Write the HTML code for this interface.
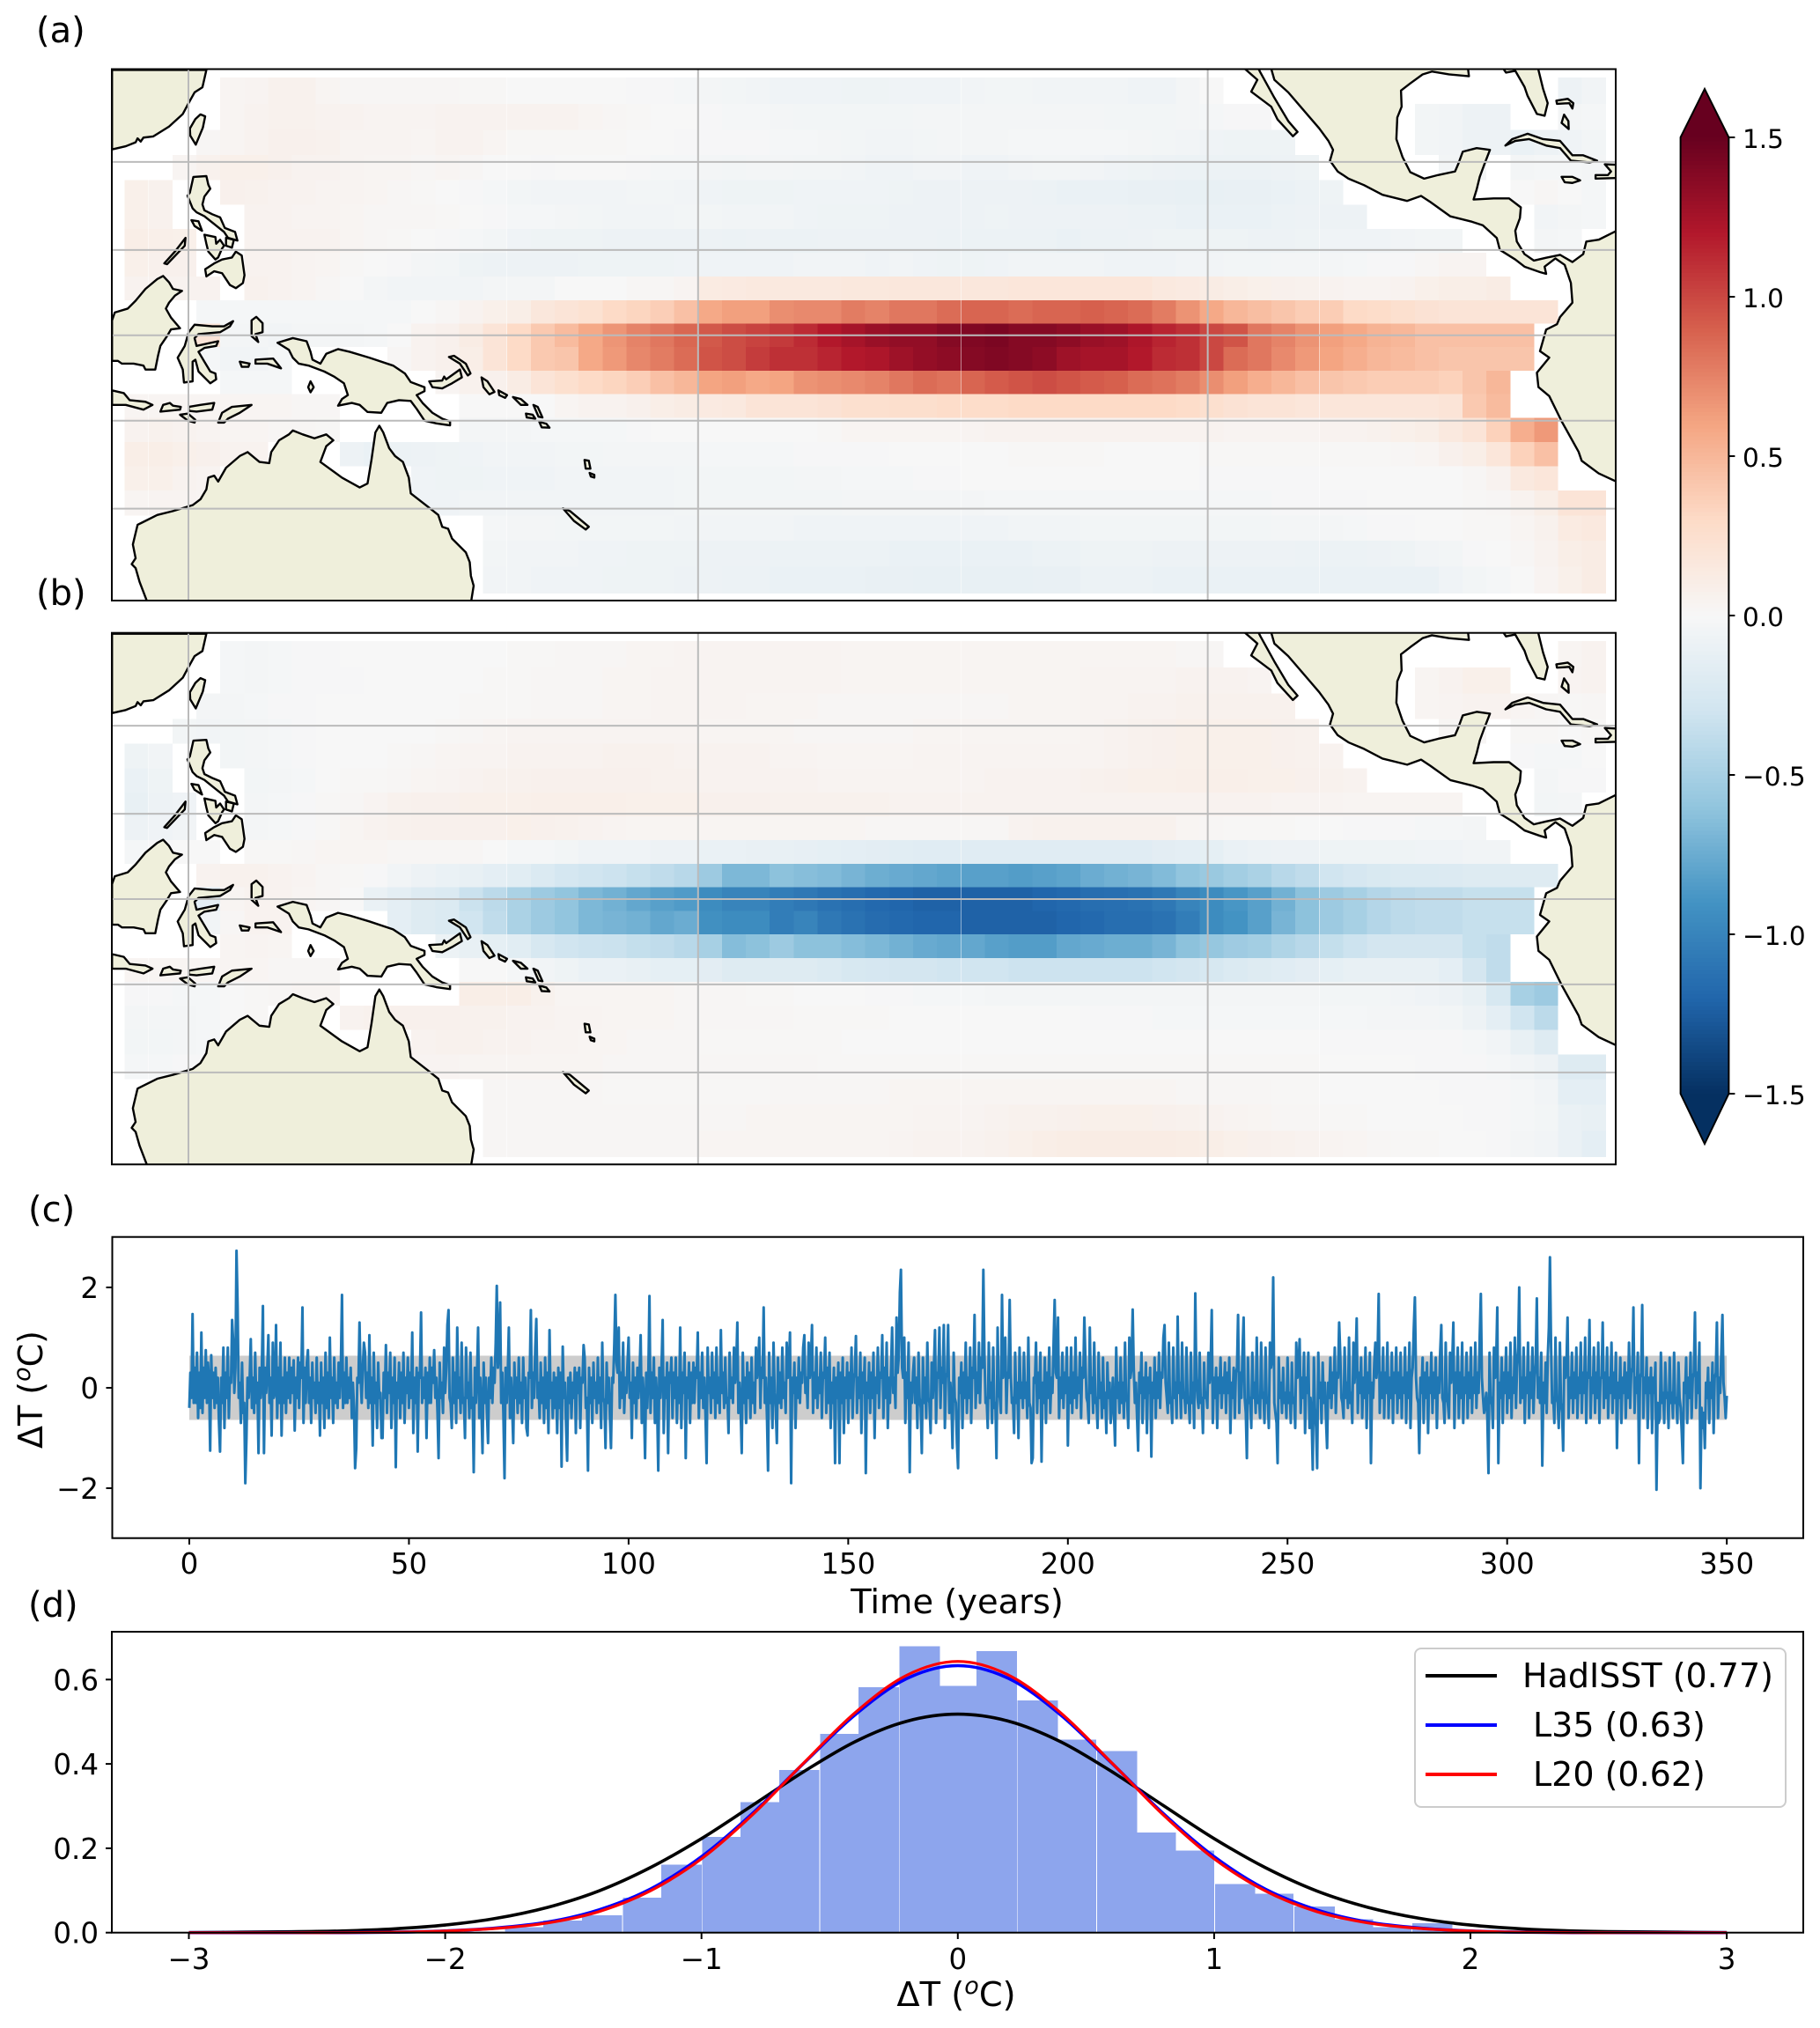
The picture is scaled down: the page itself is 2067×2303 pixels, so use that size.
<!DOCTYPE html>
<html lang="en">
<head>
<meta charset="utf-8">
<title>ENSO SST anomaly patterns and time series</title>
<style>
html,body{margin:0;padding:0;background:#fff;}
svg{display:block;}
text{font-family:"DejaVu Sans","Liberation Sans",sans-serif;fill:#000;}
</style>
</head>
<body>
<svg id="fig" xmlns="http://www.w3.org/2000/svg" width="2067" height="2303" viewBox="0 0 2067 2303">
<rect x="0" y="0" width="2067" height="2303" fill="#fff"/>
<defs>
<clipPath id="clip-a"><rect x="127" y="78.5" width="1708" height="603.5"/></clipPath>
<clipPath id="clip-b"><rect x="127" y="718.7" width="1708" height="603.6"/></clipPath>
</defs>
<g id="map-a" clip-path="url(#clip-a)"></g>
<g id="map-b" clip-path="url(#clip-b)"></g>
<rect x="127" y="78.5" width="1708" height="603.5" fill="none" stroke="#000" stroke-width="2"/>
<rect x="127" y="718.7" width="1708" height="603.6" fill="none" stroke="#000" stroke-width="2"/>
<text x="41" y="48" font-size="40">(a)</text>
<text x="41" y="687" font-size="40">(b)</text>
<text x="32" y="1387" font-size="40">(c)</text>
<text x="32" y="1836" font-size="40">(d)</text>
<g id="colorbar"></g>
<g id="series"></g>
<g id="pdf"></g>
<text transform="translate(48,1578) rotate(-90)" text-anchor="middle" font-size="38">ΔT (<tspan font-size="27" font-style="italic" dy="-14">o</tspan><tspan dy="14">C)</tspan></text>
<text x="1087" y="1832" text-anchor="middle" font-size="38.4">Time (years)</text>
<text x="1086" y="2278" text-anchor="middle" font-size="38.4">ΔT (<tspan font-size="27" font-style="italic" dy="-14">o</tspan><tspan dy="14">C)</tspan></text>
<g>
<rect x="1607" y="1872" width="421" height="180" rx="7" fill="#fff" fill-opacity="0.85" stroke="#ccc" stroke-width="2"/>
<line x1="1619" x2="1700" y1="1903" y2="1903" stroke="#000" stroke-width="4"/>
<text x="1729" y="1916" font-size="38">HadISST (0.77)</text>
<line x1="1619" x2="1700" y1="1959" y2="1959" stroke="#0000ff" stroke-width="4"/>
<text x="1741" y="1972" font-size="38">L35 (0.63)</text>
<line x1="1619" x2="1700" y1="2015" y2="2015" stroke="#ff0000" stroke-width="4"/>
<text x="1741" y="2028" font-size="38">L20 (0.62)</text>
</g>
</svg>
<script>
const _ = null;
/* ---------- panel (a): SST anomaly per grid cell, hundredths of a degree ---------- */
const anomalyA = [
[_,_,_,_,3,4,6,6,3,2, 2,2,2,2,1,1,0,0,0,0, 0,-1,-1,-2,-3,-4,-5,-6,-6,-6, -7,-7,-6,-6,-6,-5,-4,-4,-5,-5, -5,-5,-6,-6,-3,0,_,_,_,_, _,_,_,_,_,_,_,_,_,_, -8,-5],
[_,_,_,_,3,5,6,6,5,5, 4,4,4,5,5,5,5,5,5,3, 2,1,0,0,-1,-2,-2,-3,-4,-4, -4,-4,-4,-3,-3,-3,-3,-3,-3,-3, -3,-4,-4,-4,-3,-2,-1,-1,_,_, _,_,_,_,-4,-5,-8,-8,_,_, -3,-2],
[_,_,_,2,3,5,7,7,6,4, 4,4,3,5,5,3,1,1,1,1, 1,0,0,-1,-1,-1,-1,-2,-2,-3, -4,-5,-5,-4,-3,-3,-3,-2,-2,-2, -2,-2,-3,-4,-5,-6,-7,-7,-7,_, _,_,_,_,-4,-5,-8,-8,-10,-8, -6,-4],
[_,_,3,6,8,8,7,5,5,4, 3,3,2,3,2,0,0,-1,0,0, 0,-1,-2,-2,-3,-4,-3,-3,-4,-4, -5,-6,-6,-5,-5,-6,-6,-5,-4,-4, -5,-6,-7,-8,-9,-9,-9,-9,-8,-7, _,_,_,_,_,-4,-3,_,-3,-2, -2,-3],
[8,6,_,_,7,6,5,5,4,4, 3,2,1,0,-1,-2,-4,-5,-5,-5, -5,-4,-4,-5,-6,-7,-7,-7,-6,-6, -6,-6,-7,-8,-8,-8,-8,-8,-9,-10, -10,-10,-11,-11,-12,-12,-11,-11,-10,-9, -7,_,_,_,_,_,_,_,0,2, 0,-2],
[8,6,_,_,_,5,5,4,4,3, 2,2,2,1,0,-1,-2,-2,-3,-4, -5,-5,-5,-4,-4,-5,-5,-5,-6,-7, -7,-7,-8,-8,-8,-8,-7,-8,-8,-8, -8,-8,-9,-9,-10,-10,-10,-10,-9,-8, -8,-8,_,_,_,_,_,_,_,-5, -3,-2],
[10,9,8,_,_,5,5,5,5,3, 2,1,0,-1,-2,-4,-6,-7,-7,-7, -8,-8,-8,-8,-8,-9,-8,-9,-9,-8, -8,-8,-8,-8,-9,-9,-9,-9,-9,-10, -9,-9,-8,-7,-7,-7,-7,-8,-8,-7, -6,-6,-6,-5,-4,-4,_,_,_,-3, -2,_],
[8,7,7,_,_,5,5,4,3,1, 0,-1,-3,-4,-7,-8,-8,-8,-8,-7, -7,-7,-7,-6,-6,-6,-6,-6,-5,-5, -5,-6,-5,-6,-7,-7,-6,-5,-5,-5, -5,-6,-6,-6,-5,-5,-4,-4,-3,-3, -3,-2,-1,-1,2,4,4,_,_,_, _,_],
[5,5,5,5,_,6,5,4,2,0, -3,-5,-5,-5,-5,-3,-3,-3,0,0, 0,2,2,4,13,14,15,15,15,15, 16,16,17,17,17,17,17,18,18,18, 18,18,18,15,14,12,10,8,7,6, 5,4,4,5,8,10,10,12,_,_, _,_],
[_,_,_,-2,-2,-2,-2,-2,-2,-2, -2,-2,0,2,5,8,10,17,20,23, 30,33,37,45,58,62,62,70,72,72, 78,75,80,80,85,88,88,85,88,88, 90,88,85,78,68,58,50,46,42,38, 38,30,28,25,22,20,20,20,20,20, _,_],
[_,_,_,20,-3,-3,-5,-3,-3,-3, -2,0,5,7,12,20,30,40,48,58, 67,75,80,87,93,98,102,106,112,120, 125,130,133,133,138,140,142,138,138,135, 130,128,122,115,110,100,95,80,75,68, 62,58,52,50,45,45,45,45,45,_, _,_],
[_,_,_,-2,-5,-5,-2,_,_,_, _,2,5,7,10,20,30,40,42,58, 65,73,78,85,95,98,105,110,110,115, 120,122,128,132,135,138,140,138,135,128, 125,125,120,112,110,100,85,80,72,65, 60,55,50,48,45,42,42,42,42,_, _,_],
[_,_,_,_,-2,-2,-2,_,_,_, _,_,_,3,6,7,12,20,25,30, 33,37,45,50,60,62,58,60,68,70, 72,75,80,85,82,88,92,95,98,95, 92,90,85,82,78,70,62,55,50,45, 42,40,38,38,38,35,42,50,_,_, _,_],
[3,3,3,3,3,3,3,2,2,_, _,_,_,_,0,0,0,0,3,5, 5,7,10,12,14,15,20,20,20,22, 25,25,26,26,28,28,28,30,30,30, 30,30,30,30,28,25,22,20,20,18, 18,18,18,18,18,20,40,48,_,_, _,_],
[5,6,5,4,3,3,2,2,1,_, _,_,_,_,-3,-3,-3,-2,-2,-2, -2,-1,0,0,0,0,0,0,0,1, 3,3,3,3,3,4,5,5,5,5, 5,5,5,5,5,5,4,4,4,4, 5,5,6,8,10,15,20,35,55,65, _,_],
[10,10,8,7,5,5,_,_,_,-8, -10,-9,-8,-7,-6,-5,-5,-5,-4,-4, -3,-3,-3,-3,-2,-2,-2,-2,-1,-1, -1,-1,0,0,0,0,0,1,1,1, 1,0,0,0,0,1,1,1,1,1, 1,1,1,2,3,7,10,18,35,45, _,_],
[8,8,5,4,_,_,_,_,_,_, _,_,-6,-7,-7,-6,-6,-6,-5,-5, -5,-5,-5,-4,-4,-4,-4,-4,-3,-3, -2,-2,-2,-1,-1,0,0,0,0,0, 0,0,0,0,0,-1,-1,-1,-1,-1, 0,0,0,0,0,0,2,5,15,18, _,_],
[3,4,4,3,_,_,_,_,_,_, _,_,-6,-6,-5,-5,-5,-5,-5,-5, -5,-5,-5,-4,-4,-4,-4,-4,-4,-4, -3,-3,-3,-3,-3,-3,-2,-2,-2,-2, -2,-2,-2,-2,-2,-2,-2,-2,-1,-1, -1,-1,0,0,0,0,1,2,5,10, 20,20],
[_,_,_,_,_,_,_,_,_,_, _,_,_,_,_,-2,-3,-3,-4,-4, -4,-4,-4,-5,-5,-5,-5,-5,-6,-6, -6,-6,-6,-6,-6,-6,-6,-5,-5,-5, -4,-4,-4,-4,-4,-4,-4,-4,-3,-3, -3,-2,-1,-1,0,0,1,1,3,6, 13,15],
[_,_,_,_,_,_,_,_,_,_, _,_,_,_,_,-4,-5,-5,-5,-6, -6,-7,-7,-7,-8,-8,-8,-9,-9,-9, -9,-9,-10,-10,-10,-10,-10,-10,-9,-9, -7,-7,-7,-8,-8,-8,-8,-8,-8,-9, -9,-9,-8,-7,-5,-4,-1,0,2,5, 10,12],
[_,_,_,_,_,_,_,_,_,_, _,_,_,_,_,-5,-5,-6,-6,-6, -7,-7,-7,-8,-8,-9,-9,-10,-10,-10, -10,-11,-11,-12,-12,-12,-12,-12,-11,-11, -9,-9,-9,-10,-10,-10,-10,-10,-10,-10, -10,-10,-10,-10,-10,-6,-4,-2,0,4, 8,12]
];
/* ---------- panel (b): SST anomaly per grid cell, hundredths of a degree ---------- */
const anomalyB = [
[_,_,_,_,-2,-3,-2,-1,-1,0, 0,0,0,0,0,0,1,1,2,2, 2,3,3,4,4,4,4,4,4,4, 3,3,3,3,3,3,3,3,3,3, 3,3,3,3,2,2,_,_,_,_, _,_,_,_,_,_,_,_,_,_, 3,5],
[_,_,_,_,-2,-3,-2,-1,-1,-1, 0,0,0,0,0,1,1,2,2,2, 3,3,4,4,4,4,4,4,4,4, 3,3,3,3,3,3,3,3,3,3, 4,4,4,4,5,5,5,4,_,_, _,_,_,_,3,5,8,8,_,_, 4,5],
[_,_,_,-3,-3,-2,-1,-1,0,0, 0,0,0,0,1,1,1,2,2,2, 3,3,4,4,4,4,3,3,3,2, 2,2,2,2,2,2,2,3,3,3, 4,4,5,5,6,6,6,6,6,_, _,_,_,_,3,4,5,5,3,2, 1,2],
[_,_,-4,-5,-4,-3,-2,-1,0,0, 0,0,0,1,2,3,4,4,4,4, 4,4,4,4,3,3,3,3,2,2, 2,2,2,3,3,3,3,3,3,3, 4,5,6,7,8,8,8,8,7,6, _,_,_,_,_,2,2,_,1,1, 0,1],
[-7,-5,_,_,-4,-3,-2,-1,0,0, 0,1,2,3,4,4,5,5,5,5, 6,6,6,5,5,5,5,4,4,3, 3,3,3,4,4,4,4,4,4,4, 4,5,6,7,8,8,8,8,7,6, 5,_,_,_,_,_,_,_,-1,-2, -2,0],
[-10,-7,_,_,_,-4,-3,-2,0,1, 1,2,3,4,5,6,6,7,7,7, 7,7,6,6,5,5,5,5,5,4, 4,4,4,4,4,4,5,5,5,5, 6,7,8,8,9,9,9,8,8,7, 6,5,_,_,_,_,_,_,_,-3, -1,-1],
[-12,-8,-6,_,_,-3,-2,-1,1,2, 4,6,7,7,8,8,8,9,9,9, 9,8,8,8,7,7,7,6,6,6, 6,6,5,5,5,5,5,5,5,5, 5,5,5,5,5,5,5,5,4,4, 4,3,3,3,3,3,_,_,_,-4, -3,_],
[-8,-6,-5,_,_,-3,-2,-1,1,3, 5,6,7,7,7,7,8,7,6,5, 4,3,3,3,3,3,3,3,3,3, 3,2,2,2,2,2,2,5,6,6, 6,6,6,6,3,2,1,1,1,0, 0,-1,-1,-1,-2,-2,-3,_,_,_, _,_],
[-2,-1,0,0,_,1,1,2,3,3, 3,2,2,2,2,0,-2,-2,-4,-6, -6,-6,-8,-8,-10,-10,-11,-12,-13,-14, -15,-16,-17,-18,-18,-18,-18,-18,-18,-18, -18,-18,-18,-16,-15,-14,-10,-9,-8,-8, -7,-7,-7,-7,-6,-6,-5,-5,_,_, _,_],
[_,_,_,5,6,6,5,4,2,1, -1,-5,-8,-10,-12,-15,-17,-22,-27,-30, -32,-35,-38,-42,-55,-68,-68,-62,-64,-66, -70,-74,-76,-78,-80,-82,-82,-84,-82,-80, -75,-72,-70,-66,-60,-56,-52,-48,-42,-38, -30,-26,-24,-22,-22,-21,-20,-20,-20,-20, _,_],
[_,_,_,-15,3,5,5,3,2,0, -10,-15,-20,-22,-33,-40,-48,-55,-60,-68, -72,-78,-82,-85,-95,-100,-100,-105,-108,-112, -115,-118,-120,-122,-122,-122,-122,-122,-120,-118, -115,-114,-112,-108,-100,-95,-88,-82,-72,-62, -55,-50,-44,-40,-38,-38,-35,-35,-35,_, _,_],
[_,_,_,-5,2,5,5,_,_,_, _,-15,-20,-22,-30,-38,-48,-55,-60,-68, -70,-72,-78,-75,-92,-95,-95,-105,-100,-108, -112,-116,-118,-120,-120,-122,-122,-122,-122,-120, -118,-115,-115,-112,-105,-95,-90,-82,-70,-62, -55,-50,-44,-40,-38,-38,-35,-35,-35,_, _,_],
[_,_,_,_,3,4,3,_,_,_, _,_,_,-9,-12,-14,-17,-25,-30,-32, -33,-36,-38,-42,-50,-65,-62,-55,-62,-62, -65,-68,-72,-76,-78,-78,-82,-84,-84,-78, -76,-74,-74,-70,-62,-58,-54,-52,-46,-42, -36,-32,-28,-28,-28,-28,-35,-38,_,_, _,_],
[3,3,3,3,3,3,2,2,2,_, _,_,_,_,0,0,-2,-5,-7,-10, -10,-12,-14,-14,-16,-20,-20,-20,-20,-22, -25,-26,-28,-28,-30,-30,-30,-32,-32,-32, -32,-32,-32,-30,-28,-25,-22,-20,-18,-16, -14,-12,-12,-12,-12,-15,-28,-38,_,_, _,_],
[-1,-1,-2,-2,0,1,2,3,3,_, _,_,_,_,10,10,10,6,3,3, 3,3,3,2,2,2,1,1,0,0, 0,-1,-1,-2,-2,-2,-3,-3,-3,-3, -3,-3,-3,-3,-3,-3,-3,-3,-3,-3, -4,-4,-4,-5,-6,-8,-12,-25,-50,-55, _,_],
[-3,-3,-3,-2,0,1,_,_,_,5, 6,7,7,7,6,6,5,5,4,4, 3,3,3,2,2,2,2,2,1,1, 1,1,0,0,0,0,0,0,0,0, -1,-1,-1,-2,-2,-2,-2,-2,-2,-2, -2,-2,-3,-3,-3,-4,-8,-15,-30,-40, _,_],
[-4,-4,-3,-2,_,_,_,_,_,_, _,_,5,6,6,5,5,4,4,3, 3,2,2,2,1,1,1,1,1,1, 0,0,0,0,0,0,0,0,0,0, 0,0,0,0,0,0,0,0,0,0, -1,-1,-1,-1,-1,-1,-2,-5,-12,-20, _,_],
[-2,-2,-1,-1,_,_,_,_,_,_, _,_,4,4,3,3,3,3,3,3, 2,2,2,2,2,2,2,2,2,1, 1,1,1,1,1,1,1,1,1,1, 1,1,1,1,1,1,1,1,1,1, 0,0,0,0,-1,-1,-1,-2,-5,-8, -20,-20],
[_,_,_,_,_,_,_,_,_,_, _,_,_,_,_,2,2,2,2,2, 1,1,1,1,1,1,1,2,2,2, 2,2,3,3,3,3,3,3,3,3, 3,3,3,3,2,2,2,2,1,1, 0,0,0,0,0,-1,-1,-1,-2,-5, -15,-15],
[_,_,_,_,_,_,_,_,_,_, _,_,_,_,_,2,2,2,2,2, 2,2,2,2,2,2,3,3,3,3, 3,3,3,4,4,4,5,6,6,7, 8,8,8,7,6,5,4,3,2,2, 1,1,0,0,0,0,-1,-1,-2,-4, -10,-12],
[_,_,_,_,_,_,_,_,_,_, _,_,_,_,_,2,2,2,2,2, 2,2,2,2,3,3,3,3,3,3, 3,3,4,5,5,5,6,8,10,11, 12,12,12,12,11,10,8,7,6,5, 4,3,2,1,1,0,0,-1,-3,-5, -10,-15]
];
const gridLons = [120, 180, 240];
const gridLats = [20, 10, 0, -10, -20];
const cbarTicks = [1.5, 1.0, 0.5, 0.0, -0.5, -1.0, -1.5];

const timeStepYears = 0.25;
const timeTicks = [0, 50, 100, 150, 200, 250, 300, 350];
const tempTicks = [-2, 0, 2];
const bandHalfWidth = 0.64;
const bandYears = [0, 350];
const anomalySeries = [
-.4,.3,-.2,1.47,-.3,.4,-.3,.7,-.6,.3,-.4,1.1,-.5,.4,-.2,.75,-.3,.5,.1,-1.25,.65,-.2,.3,-.4,.4,-.3,.2,-.7,-1.27,.2,-.3,.8,-.8,.3,-.2,.8,-.6,.2,.1,1.35,
.9,-.1,.4,2.73,1.6,-.2,.1,-.7,.5,-.5,-.3,-1.9,-1.0,.2,-.2,.2,.97,-.4,.2,-.5,.7,-.3,.1,-1.3,.4,-.2,.3,1.63,-1.3,.4,-.1,.4,1.05,-.3,.2,-.95,.9,-.2,-.1,1.25,
-.6,.4,-.3,.9,-.95,.2,-.3,.6,-.5,.3,-.2,.6,-.3,.4,-.1,.55,-.85,.2,-.2,.6,-.4,.5,.2,1.6,-.7,.4,-.3,.5,.75,-.3,.2,-.7,.5,-.2,.1,-.5,.6,-.3,.1,-.95,
.5,-.3,.2,-.8,.7,-.4,.3,-.6,1.0,-.2,.2,-.7,.6,-.3,.1,-.4,.5,-.2,.4,1.85,-.4,.3,-.3,.6,-.3,.2,-.2,.4,-.6,.1,-.4,-1.6,-1.2,.2,.1,1.3,.2,-.3,.4,.9,
.7,-.2,.3,-.4,1.05,-.3,.2,-1.15,.7,-.3,.1,-.8,.5,-.2,-.1,-1.0,-1.0,.3,-.2,.85,-.5,.3,-.1,.7,-.8,.2,-.3,.6,-1.58,.1,-.2,.5,-.6,.3,-.3,.7,-.7,.2,-.1,.6,
-.4,.3,-.2,1.1,-.9,.2,-.3,.4,-1.27,.3,.2,1.5,-.3,.2,-.2,.4,-1.0,.3,-.3,.6,-.3,.4,.1,.75,-.2,.2,-.5,-1.4,.5,-.2,.1,-.5,.8,-.1,.4,1.25,1.55,-.2,-.3,-.8,
.6,-.3,.3,-.7,1.2,-.2,.2,-.5,.9,-.3,-.2,-1.0,.8,-.2,.1,-.6,.7,-.4,-.2,-1.68,.4,-.3,.3,1.2,-.6,.2,-.4,-1.3,.5,-.3,.2,-.5,-1.1,.2,-.2,.6,-.3,.4,.1,.9,
2.03,.4,.8,1.7,-.3,.3,-.5,-1.8,.4,-.3,.3,1.2,-.6,.2,-.4,-1.1,.5,-.2,.2,-.5,.6,-.3,.1,-.7,.6,-.2,.2,-.8,-.95,.3,.2,1.55,-.4,.3,-.2,.8,1.37,-.2,.1,-.6,
.5,-.3,.2,-.7,.6,-.4,.3,-.9,1.15,-.2,.1,-.6,.3,-.4,.2,-.9,.4,-.4,.3,-1.57,.82,-.2,.1,-.7,-1.45,.2,-.3,.3,-.6,.1,-.2,.4,-.9,.3,-.1,.4,-.8,.2,.1,.85,
.6,-.4,-.2,-1.65,.4,-.3,.2,-.7,.5,-.2,.1,-.5,.6,-.3,.2,-.8,.9,-.2,-.3,-1.2,.5,-.3,.2,-.6,-1.2,.2,.1,.9,1.85,.5,.3,1.2,-.4,.3,-.2,.9,-.5,.2,-.1,.5,
1.0,-.2,.1,-1.0,.5,-.3,.2,-.6,.4,-.2,.3,1.05,-.7,.2,-.3,-1.4,.3,-.4,.3,1.83,-.5,.3,-.2,.6,-.7,.2,-.3,-1.65,.4,-.2,.4,1.35,-.9,.2,-.2,.5,-1.3,.3,.1,.6,
-.6,.3,-.2,.6,-.7,.2,-.3,1.2,-.8,.3,-.1,.7,-1.4,.2,-.2,.5,-.7,.3,-.3,.5,-.3,.4,.2,1.1,-.6,.3,-.2,.7,-.4,.2,-.5,-1.5,.8,-.1,.2,-.5,.7,-.2,.3,-.6,
.8,-.3,.2,-.5,1.15,-.1,.3,-.4,.6,-.3,-.2,-.9,.7,-.2,.2,-.3,.8,.1,.4,1.3,-.5,.1,-.4,-1.3,.7,-.3,.2,-.7,.5,-.2,.3,-.6,.6,-.3,.1,-.5,.8,.2,.5,1.0,
-.4,.4,.2,1.6,-.3,.2,-.6,-1.65,.7,-.3,.2,-.8,.9,-.1,-.4,-1.1,.6,-.3,.3,-.4,.8,-.2,.1,-.5,.9,.2,.4,1.1,-1.9,.2,-.1,.5,-.8,.2,-.2,.6,-.3,.3,.1,.8,
1.05,-.1,.2,-.4,.9,.2,.5,1.25,-.5,.3,-.2,.8,-.4,.2,-.1,.7,-.6,.3,.2,1.0,-.5,.4,-.3,.7,-.8,.1,-.3,.4,-1.5,.2,-.2,.5,-1.5,.3,-.3,.6,-.9,.2,-.2,.5,
-.7,.3,-.2,.8,-.6,.2,.3,1.03,-.5,.2,-.2,.7,-.9,.3,-.1,.6,-1.7,.1,-.2,.5,-.5,.3,-.2,.7,-1.0,.2,-.1,.8,-.4,.3,.2,1.05,-.6,.4,-.2,.9,-.8,.2,-.3,.4,
1.2,-.1,.2,-.4,1.4,.3,.6,1.9,2.35,.4,.2,1.0,-.7,.3,-.2,.9,-1.68,.1,-.3,.3,
.6,-.3,.2,-.8,.7,-.2,-.4,-1.3,.6,-.3,.2,-.6,.9,-.2,-.3,-.9,.5,-.2,.4,1.15,
-.7,.3,.2,1.2,-.4,.4,.1,1.25,-.8,.2,.3,1.25,-.5,.1,-.3,-1.2,.7,-.2,-.3,-1.1,
-1.6,.2,-.1,.5,-.8,.3,-.2,.9,-.5,.2,-.2,.8,-.7,.4,.2,1.45,-.4,.3,-.1,.9,
-.3,.6,.4,2.35,.7,-.3,-.2,-.8,.9,-.2,.1,-.7,.8,-.4,-.3,-1.4,1.2,-.1,-.2,-.5,
1.85,.2,.4,1.0,-.5,.3,.2,1.75,.3,-.3,-.2,-.9,.7,-.3,.1,-1.0,.8,-.2,.1,-.4,
.7,-.2,.1,-.6,1.0,-.3,-.4,-1.5,-1.4,.2,.1,.9,-.5,.3,-.2,.7,-1.47,.1,-.3,.6,
-.7,.3,-.2,.8,-.5,.2,-.1,.9,1.75,.3,.2,1.4,-.6,.2,-.2,.7,-.4,.3,-.1,.8,
-1.15,.2,-.3,.8,-.5,.3,-.2,1.0,-.4,.2,-.1,.7,-.6,.4,.2,1.4,.5,-.2,-.3,-.7,
1.2,-.1,.2,-.5,.9,-.3,-.2,-.8,.7,-.2,.1,-.6,.6,-.4,-.1,-.9,.5,-.2,.1,-.7,
-.4,.2,-.5,-1.15,.8,-.2,.1,-.5,.6,-.3,.1,-.6,.9,-.2,-.3,-.8,1.0,.2,.4,1.56,
.4,-.3,.1,-.6,-1.25,.3,-.1,.7,-.7,.2,-.2,.5,-.9,.2,-.1,.4,-1.37,.1,-.2,.6,
-.6,.3,-.2,.7,-.4,.3,.2,1.0,1.25,.1,-.2,-.5,.9,-.3,-.2,-.7,.8,-.2,.1,-.6,
1.42,-.1,.1,-.6,.9,-.2,-.1,-.5,.8,-.3,-.2,-.7,.7,-.3,.1,-.8,1.88,.2,-.2,-.4,
.7,-.3,-.2,-.9,.5,-.2,-.1,-.4,.7,.1,.4,1.55,-.7,.2,-.2,.4,-.8,.2,-.1,.6,
-.4,.2,-.1,.5,-.5,.3,-.1,.6,-.9,.1,-.2,.4,-.6,.3,.4,1.45,-.5,.3,-.2,.7,
1.4,-.2,-.5,-1.4,.6,-.3,-.2,-.8,.7,-.2,.1,-.5,1.0,-.3,-.2,-.6,.9,-.2,-.1,-.7,
.8,-.3,-.2,-.8,.9,.4,.6,2.2,-.3,-.5,-.7,-1.5,.6,-.2,.1,-.5,.4,-.3,-.1,-.6,
.6,-.3,-.1,-.7,.5,-.3,-.2,-.8,.9,.2,.4,.97,-.5,.2,-.2,.7,-.9,.2,-.1,.7,
-.8,-.2,-.6,-1.63,.6,-.4,-.8,-1.6,.7,-.2,.1,-.7,.5,-.3,.1,-.6,-1.2,.1,-.2,.6,
-.4,.3,-.1,.8,-.5,.3,.2,1.3,.7,-.2,-.3,-.6,.8,-.2,.1,-.4,1.0,-.3,-.1,-.7,
.9,.1,.5,1.38,-.5,.3,-.1,.6,-.6,.2,-.2,.8,-.8,.3,-.1,.7,-1.5,.1,-.2,.5,
.9,.2,.6,1.87,-.5,.3,-.2,.8,-.6,.3,-.1,.9,-.6,.2,-.2,.7,-.7,.3,-.1,.8,
-.5,.3,-.2,.7,-.6,.2,-.1,.8,-.7,.3,-.2,.9,-.8,.2,.4,1.2,1.8,.2,-.2,-.3,
-1.3,.2,-.1,.6,-.7,.3,-.2,.5,-.9,.2,-.1,.7,-.5,.3,-.2,.6,-.8,.2,-.1,.7,
1.25,-.2,-.3,-.7,.9,-.2,-.3,-.6,.7,.1,.5,1.3,-.8,.3,-.1,.8,-.6,.3,-.2,.9,
-.7,.2,-.1,.7,-.6,.3,-.2,.8,-.5,.2,-.1,.9,-.4,.3,-.1,1.0,1.87,.2,-.2,-.5,
-.3,-.1,-.6,-1.7,.7,-.3,-.2,-.8,.8,.2,.5,1.6,-1.5,.1,-.2,.6,-.7,.3,-.1,.8,
-.5,.3,-.2,.9,-.6,.2,-.1,1.0,-.4,.4,.8,2.0,-.3,.2,-.2,.8,-.7,.2,-.1,.9,
-.6,.3,-.2,.8,-.5,.2,.5,1.78,-.2,.2,-.3,.7,-1.55,.1,-.3,.5,-.5,.6,1.2,2.6,
.8,-.3,-.2,-.7,1.0,-.2,-.3,-.8,.9,-.3,-.5,-1.25,.6,.2,.5,1.4,-.6,.2,-.2,.7,
-.5,.3,-.2,.8,-.6,.2,-.1,.9,-.5,.3,-.1,1.0,-.7,.3,.2,1.35,-.6,.2,-.1,.8,
-.5,.3,-.2,.9,-.7,.2,.2,1.3,-.4,.3,-.2,.8,-.6,.2,-.1,.9,-.5,.3,-.2,.7,
-1.2,.1,-.2,.6,-.7,.2,-.1,.5,-.6,.3,-.2,.9,-.4,.3,.4,1.6,-.5,.2,-.1,.7,
-1.5,.2,.3,1.65,-.6,.2,-.1,.6,-.8,.2,-.1,.4,-.9,.2,-.1,.5,-2.03,-.3,-.7,-.6,
.7,-.3,-.1,-.7,.5,-.2,-.1,-.8,.6,-.3,-.1,-.6,.7,-.3,-.2,-.7,.5,-.2,-.4,-.9,
-1.5,.1,-.1,.6,-.7,.2,-.2,.7,-.6,.2,.3,1.5,-.4,.3,-.1,.9,-2.0,-.4,-.8,-.5,
-1.2,.1,-.2,.4,-.7,.1,-.2,.5,-.9,.2,.3,1.3,-.6,.2,-.1,.7,1.45,.1,-.2,-.6,
-.16
];

/* ---------- panel (d): histogram and fitted density curves ---------- */
const histCenters = [-1.85,-1.69,-1.54,-1.39,-1.23,-1.08,-.92,-.77,-.62,-.46,-.31,-.15,0,.15,.31,.46,.62,.77,.92,1.08,1.23,1.39,1.54,1.69,1.85,2.0];
const histDensity = [.003,.013,.029,.041,.083,.161,.227,.309,.386,.471,.582,.679,.585,.667,.550,.458,.431,.237,.195,.115,.092,.062,.032,.013,.022,.004];
const histBinWidth = 0.154;
const curveX = [-3,-2.8,-2.6,-2.4,-2.2,-2,-1.8,-1.6,-1.4,-1.2,-1,-.8,-.6,-.4,-.2,0,.2,.4,.6,.8,1,1.2,1.4,1.6,1.8,2,2.2,2.4,2.6,2.8,3];
const curveHadISST = [0,.001,.002,.004,.009,.018,.034,.06,.099,.154,.223,.302,.382,.453,.501,.518,.501,.453,.382,.302,.223,.154,.099,.06,.034,.018,.009,.004,.002,.001,0];
const curveL35 = [0,0,0,0,.001,.004,.011,.025,.054,.103,.18,.283,.402,.517,.602,.633,.602,.517,.402,.283,.18,.103,.054,.025,.011,.004,.001,0,0,0,0];
const curveL20 = [0,0,0,0,.001,.004,.01,.023,.05,.099,.175,.28,.403,.522,.61,.643,.61,.522,.403,.28,.175,.099,.05,.023,.01,.004,.001,0,0,0,0];
const pdfXTicks = [-3,-2,-1,0,1,2,3];
const pdfYTicks = [0,0.2,0.4,0.6];

/* ---------- coastlines (base-map geometry) ---------- */
const coastWest = [
"M285,380 L320,372 L345,362 L350,352 L358,360 L365,350 L390,347 L430,322 L465,290 L480,262 L495,235 L515,222 L525,178 L285,178 Z",
"M510,291 L522,296 L516,325 L498,368 L484,345 L483,327 L497,303 Z",
"M492,450 L525,448 L530,470 L535,480 L520,500 L515,520 L520,535 L540,545 L560,553 L572,580 L598,590 L604,612 L580,605 L570,590 L545,570 L520,550 L500,540 L490,530 L477,498 L483,490 Z",
"M487,560 L505,563 L514,587 L495,575 Z",
"M520,597 L548,603 L550,620 L560,610 L570,625 L565,632 L555,655 L548,660 L530,640 L525,620 Z",
"M575,605 L595,610 L590,630 L575,625 Z",
"M472,605 L470,625 L425,672 L418,670 L445,640 Z",
"M600,640 L615,650 L622,700 L618,720 L600,733 L585,725 L565,695 L545,690 L525,703 L522,685 L545,670 L565,660 L590,655 Z",
"M285,815 L292,795 L325,785 L345,765 L370,735 L400,710 L415,702 L430,718 L440,735 L463,740 L445,752 L430,770 L422,785 L435,808 L458,835 L435,838 L425,855 L408,880 L402,905 L395,940 L370,940 L365,930 L340,925 L310,925 L300,918 L285,918 Z",
"M480,845 L495,826 L540,830 L570,830 L593,817 L585,830 L560,845 L505,850 L495,860 L500,880 L555,868 L550,880 L520,885 L505,895 L520,920 L535,945 L548,950 L550,965 L535,975 L525,965 L505,945 L497,915 L490,920 L490,970 L468,973 L465,940 L452,910 L470,880 Z",
"M640,815 L652,806 L668,822 L668,845 L650,850 L657,870 L640,855 Z",
"M610,920 L635,925 L632,933 L615,933 Z",
"M650,915 L695,912 L715,937 L680,925 L650,925 Z",
"M285,993 L315,1000 L330,1018 L370,1022 L388,1030 L365,1042 L320,1030 L285,1030 Z",
"M408,1047 L415,1030 L432,1025 L440,1032 L460,1035 L458,1042 Z",
"M480,1035 L510,1030 L545,1025 L540,1042 L500,1047 L480,1045 Z",
"M458,1055 L478,1052 L497,1068 L495,1075 L478,1070 Z",
"M555,1075 L565,1050 L590,1035 L640,1030 L610,1050 L580,1065 L570,1075 Z",
"M706,872 L745,860 L780,868 L790,895 L795,915 L815,925 L830,900 L860,888 L890,895 L940,910 L1000,930 L1030,950 L1045,972 L1080,985 L1080,995 L1060,1005 L1075,1025 L1100,1050 L1125,1065 L1145,1072 L1145,1082 L1110,1077 L1080,1070 L1060,1040 L1045,1020 L1015,1018 L985,1025 L970,1050 L935,1048 L915,1030 L895,1025 L860,1032 L870,1015 L885,1005 L875,975 L850,958 L825,945 L785,930 L760,925 L745,910 L735,890 Z",
"M790,970 L798,985 L790,998 L784,985 Z",
"M1092,970 L1125,968 L1130,958 L1135,965 L1170,940 L1175,960 L1150,975 L1125,988 L1100,985 Z",
"M1142,908 L1155,905 L1185,925 L1197,950 L1190,955 L1170,925 Z",
"M1225,960 L1240,970 L1258,997 L1245,1003 L1230,985 Z",
"M1268,993 L1290,1005 L1285,1012 L1270,1005 Z",
"M1305,1010 L1325,1015 L1342,1030 L1325,1030 Z",
"M1357,1030 L1368,1035 L1380,1062 L1370,1060 Z",
"M1338,1052 L1355,1055 L1362,1065 L1340,1062 Z",
"M1372,1073 L1390,1078 L1398,1088 L1378,1087 Z",
"M1487,1170 L1498,1172 L1502,1192 L1490,1192 Z",
"M1500,1203 L1512,1208 L1512,1215 L1503,1212 Z",
"M1432,1293 L1450,1300 L1498,1340 L1490,1347 L1460,1325 Z",
"M373,1527 L355,1480 L345,1445 L335,1435 L345,1420 L338,1385 L350,1335 L360,1330 L400,1310 L440,1300 L490,1285 L510,1270 L525,1245 L530,1215 L545,1210 L555,1225 L575,1190 L610,1160 L630,1150 L660,1175 L685,1178 L690,1150 L710,1120 L735,1105 L745,1095 L770,1105 L800,1115 L830,1105 L848,1120 L830,1135 L815,1175 L870,1215 L915,1240 L935,1230 L945,1170 L955,1100 L965,1083 L975,1100 L990,1140 L1005,1160 L1025,1175 L1040,1215 L1045,1255 L1090,1290 L1115,1310 L1125,1340 L1140,1345 L1150,1370 L1185,1405 L1195,1430 L1198,1465 L1205,1490 L1197,1540 L373,1540 Z"
];
const coastEast = [
"M405,30 L420,75 L465,110 L500,145 L530,175 L565,210 L595,245 L610,270 L600,300 L625,330 L660,350 L710,368 L770,395 L850,412 L895,398 L925,415 L990,455 L1060,470 L1095,480 L1140,515 L1150,548 L1200,575 L1230,595 L1280,610 L1300,615 L1295,595 L1330,572 L1360,590 L1380,640 L1385,695 L1345,735 L1335,755 L1300,770 L1280,830 L1310,848 L1270,890 L1275,930 L1310,955 L1350,1025 L1405,1110 L1415,1135 L1470,1170 L1540,1198 L1540,490 L1470,520 L1430,525 L1420,560 L1385,582 L1345,562 L1300,570 L1260,578 L1230,560 L1205,525 L1200,495 L1215,460 L1218,430 L1180,405 L1130,405 L1065,408 L1075,380 L1085,345 L1100,310 L1118,270 L1075,265 L1030,275 L1015,310 L1005,330 L950,340 L905,350 L860,332 L835,290 L815,240 L818,180 L832,150 L830,105 L860,85 L900,60 L930,52 L985,60 L1050,65 L1045,30 Z",
"M1150,30 L1170,55 L1200,50 L1230,95 L1240,120 L1270,170 L1295,175 L1305,140 L1290,100 L1270,30 Z",
"M325,45 L365,75 L345,108 L410,150 L430,185 L480,232 L495,220 L465,190 L420,125 L375,55 L360,30 Z",
"M1168,258 L1190,240 L1240,225 L1290,240 L1345,245 L1385,285 L1420,285 L1465,300 L1440,305 L1380,300 L1345,265 L1300,258 L1245,240 L1200,245 Z",
"M1333,133 L1370,128 L1388,140 L1385,155 L1375,140 L1335,142 Z",
"M1358,172 L1372,190 L1373,212 L1350,195 Z",
"M1490,310 L1540,312 L1540,348 L1460,350 L1460,340 L1500,340 L1510,330 Z",
"M1350,345 L1385,345 L1410,355 L1385,362 L1360,360 Z"
];

/* ---------- helpers ---------- */
const NS = "http://www.w3.org/2000/svg";
function make(tag, attrs, parent, text) {
  const el = document.createElementNS(NS, tag);
  for (const k in attrs) el.setAttribute(k, attrs[k]);
  if (text !== undefined) el.textContent = text;
  parent.appendChild(el);
  return el;
}
const rdbu = [[5,48,97],[33,102,172],[67,147,195],[146,197,222],[209,229,240],[247,247,247],[253,219,199],[244,165,130],[214,96,77],[178,24,43],[103,0,31]];
function colorOf(v) {
  let t = (v + 1.5) / 3 * 10;
  t = Math.max(0, Math.min(9.9999, t));
  const i = Math.floor(t), f = t - i, a = rdbu[i], b = rdbu[i + 1];
  return "rgb(" + [0, 1, 2].map(c => Math.round(a[c] + (b[c] - a[c]) * f)).join(",") + ")";
}
function fmt(v) { return String(v).replace("-", "\u2212"); }

/* ---------- map axes ---------- */
const lonToX = lon => 214 + (lon - 120) * 9.647;
const mercator = lat => Math.log(Math.tan(Math.PI / 4 + lat * Math.PI / 360));
const latToY = (lat, y0) => y0 - 552.4 * mercator(lat);
const cellLon = col => 112.5 + col * 2.8125;
const cellLat = row => 29.05 - row * 2.767;

function drawMap(root, rows, dy, suffix) {
  const equator = 380.8 + dy;
  const cells = make("g", { "shape-rendering": "crispEdges" }, root);
  
  
  rows.forEach((row, r) => {
    const y1 = latToY(cellLat(r), equator), y2 = latToY(cellLat(r + 1), equator);
    row.forEach((v, c) => {
      if (v === null || v === undefined) return;
      const x1 = lonToX(cellLon(c)), x2 = lonToX(cellLon(c + 1));
      const cell = make("rect", { x: x1.toFixed(1), y: y1.toFixed(1), width: (x2 - x1).toFixed(1), height: (y2 - y1).toFixed(1), fill: colorOf(v / 100) }, cells);
      
      
    });
  });
  const west = make("g", { transform: "translate(0," + dy + ") scale(" + (1 / 2.24) + ")" }, root);
  
  
  const east = make("g", { transform: "translate(1300," + (60 + dy) + ") scale(" + (550 / 1568) + "," + (640 / 1568) + ")" }, root);
  
  
  [[west, coastWest], [east, coastEast]].forEach(pair => {
    pair[1].forEach(d => {
      const land = make("path", { d: d, fill: "#efefdb", stroke: "#000", "stroke-width": 2.4, "stroke-linejoin": "round", "vector-effect": "non-scaling-stroke" }, pair[0]);
      
      
    });
  });
  gridLons.forEach(lon => {
    const line = make("line", { x1: lonToX(lon), x2: lonToX(lon), y1: 78 + dy, y2: 683 + dy, stroke: "#bbb", "stroke-width": 2 }, root);
    
    
  });
  gridLats.forEach(lat => {
    const y = latToY(lat, equator);
    const line = make("line", { x1: 127, x2: 1835, y1: y, y2: y, stroke: "#bbb", "stroke-width": 2 }, root);
    
    
  });
}
drawMap(document.getElementById("map-a"), anomalyA, 0, "a");
drawMap(document.getElementById("map-b"), anomalyB, 640.2, "b");

/* ---------- colorbar ---------- */
(function () {
  const g = document.getElementById("colorbar");
  const yOf = v => 699 - v * 362;
  const L = 1908.6, R = 1963.4;
  const bands = make("g", { "shape-rendering": "crispEdges" }, g);
  
  
  const step = 0.0125;
  for (let v = 1.5; v > -1.5 + 1e-6; v -= step) {
    const band = make("rect", { x: L, width: R - L, y: yOf(v).toFixed(1), height: (step * 362 + 0.6).toFixed(1), fill: colorOf(v - step / 2) }, bands);
    
    
  }
  const top = make("polygon", { points: L + "," + yOf(1.5) + " 1936," + 101 + " " + R + "," + yOf(1.5), fill: "#67001f" }, g);
  
  
  const bottom = make("polygon", { points: L + "," + yOf(-1.5) + " 1936," + 1299 + " " + R + "," + yOf(-1.5), fill: "#053061" }, g);
  
  
  const outline = make("polygon", { points: L + "," + yOf(1.5) + " 1936,101 " + R + "," + yOf(1.5) + " " + R + "," + yOf(-1.5) + " 1936,1299 " + L + "," + yOf(-1.5), fill: "none", stroke: "#000", "stroke-width": 2 }, g);
  
  
  cbarTicks.forEach(v => {
    const y = yOf(v);
    const tick = make("line", { x1: R, x2: R + 7, y1: y, y2: y, stroke: "#000", "stroke-width": 2 }, g);
    
    
    const label = make("text", { x: 1979, y: y + 12, "font-size": 29.5 }, g, fmt(v.toFixed(1)));
    
    
  });
})();

/* ---------- time series panel ---------- */
const xTime = t => 215 + 4.989 * t;
const yTemp = v => 1576 - 57 * v;
(function () {
  const g = document.getElementById("series");
  const band = make("rect", { x: xTime(bandYears[0]), width: xTime(bandYears[1]) - xTime(bandYears[0]), y: yTemp(bandHalfWidth), height: yTemp(-bandHalfWidth) - yTemp(bandHalfWidth), fill: "#cdcdcd" }, g);
  
  
  const d = anomalySeries.map((v, i) => (i ? "L" : "M") + xTime(i * timeStepYears).toFixed(1) + "," + yTemp(v).toFixed(1)).join("");
  const line = make("path", { d: d, fill: "none", stroke: "#1f77b4", "stroke-width": 3, "stroke-linejoin": "round" }, g);
  
  
  const frame = make("rect", { x: 127.5, y: 1404.7, width: 1920.5, height: 342, fill: "none", stroke: "#000", "stroke-width": 2 }, g);
  
  
  timeTicks.forEach(t => {
    const tick = make("line", { x1: xTime(t), x2: xTime(t), y1: 1747, y2: 1754, stroke: "#000", "stroke-width": 2 }, g);
    
    
    const label = make("text", { x: xTime(t), y: 1787, "text-anchor": "middle", "font-size": 32.5 }, g, fmt(t));
    
    
  });
  tempTicks.forEach(v => {
    const tick = make("line", { x1: 120.5, x2: 127.5, y1: yTemp(v), y2: yTemp(v), stroke: "#000", "stroke-width": 2 }, g);
    
    
    const label = make("text", { x: 112, y: yTemp(v) + 12, "text-anchor": "end", "font-size": 32.5 }, g, fmt(v));
    
    
  });
})();

/* ---------- distribution panel ---------- */
const xPdf = v => 1087.8 + 291.1 * v;
const yPdf = d => 2194.7 - 479 * d;
function smoothPath(xs, ys) {
  const pts = xs.map((x, i) => [xPdf(x), yPdf(ys[i])]);
  let d = "M" + pts[0][0].toFixed(1) + "," + pts[0][1].toFixed(1);
  for (let i = 0; i < pts.length - 1; i++) {
    const p0 = pts[Math.max(0, i - 1)], p1 = pts[i], p2 = pts[i + 1], p3 = pts[Math.min(pts.length - 1, i + 2)];
    const c1x = p1[0] + (p2[0] - p0[0]) / 6, c1y = p1[1] + (p2[1] - p0[1]) / 6;
    const c2x = p2[0] - (p3[0] - p1[0]) / 6, c2y = p2[1] - (p3[1] - p1[1]) / 6;
    d += "C" + c1x.toFixed(1) + "," + c1y.toFixed(1) + " " + c2x.toFixed(1) + "," + c2y.toFixed(1) + " " + p2[0].toFixed(1) + "," + p2[1].toFixed(1);
  }
  return d;
}
(function () {
  const g = document.getElementById("pdf");
  const bars = make("g", { "shape-rendering": "crispEdges" }, g);
  
  
  histCenters.forEach((c, i) => {
    const x1 = xPdf(c - histBinWidth / 2), x2 = xPdf(c + histBinWidth / 2);
    const bar = make("rect", { x: x1.toFixed(1), width: (x2 - x1 + 1).toFixed(1), y: yPdf(histDensity[i]).toFixed(1), height: (yPdf(0) - yPdf(histDensity[i])).toFixed(1), fill: "#8da5ed" }, bars);
    
    
  });
  const black = make("path", { d: smoothPath(curveX, curveHadISST), fill: "none", stroke: "#000", "stroke-width": 3.6 }, g);
  
  
  const blue = make("path", { d: smoothPath(curveX, curveL35), fill: "none", stroke: "#0000ff", "stroke-width": 3.6 }, g);
  
  
  const red = make("path", { d: smoothPath(curveX, curveL20), fill: "none", stroke: "#ff0000", "stroke-width": 3.2 }, g);
  
  
  const frame = make("rect", { x: 127, y: 1853, width: 1921, height: 341.7, fill: "none", stroke: "#000", "stroke-width": 2 }, g);
  
  
  pdfXTicks.forEach(v => {
    const tick = make("line", { x1: xPdf(v), x2: xPdf(v), y1: 2195, y2: 2202, stroke: "#000", "stroke-width": 2 }, g);
    
    
    const label = make("text", { x: xPdf(v), y: 2236, "text-anchor": "middle", "font-size": 32.5 }, g, fmt(v));
    
    
  });
  pdfYTicks.forEach(v => {
    const tick = make("line", { x1: 120, x2: 127, y1: yPdf(v), y2: yPdf(v), stroke: "#000", "stroke-width": 2 }, g);
    
    
    const label = make("text", { x: 112, y: yPdf(v) + 12, "text-anchor": "end", "font-size": 32.5 }, g, v.toFixed(1));
    
    
  });
})();
</script>
</body>
</html>
